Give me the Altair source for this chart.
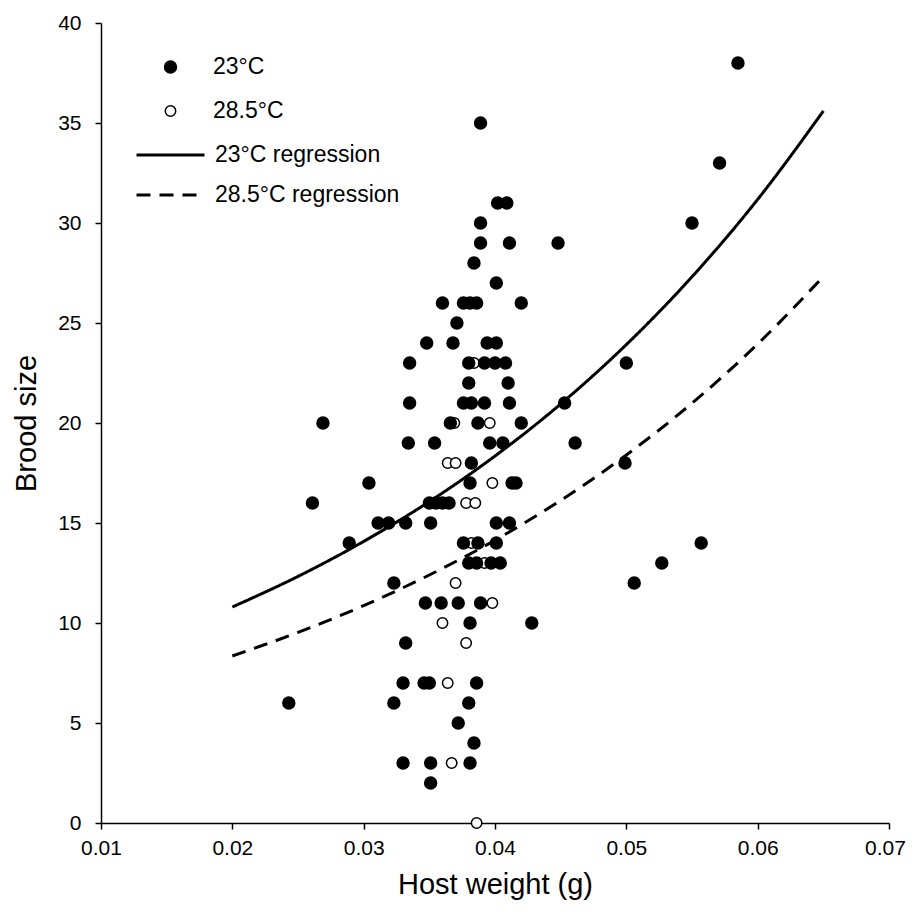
import altair as alt
import pandas as pd

# ---- data ----
# 23°C (filled circles)
x_23 = [0.0585, 0.0389, 0.0571, 0.0402, 0.0409, 0.0389, 0.0550, 0.0389, 0.0411, 0.0448,
        0.0384, 0.0401, 0.0360, 0.0376, 0.0381, 0.0386, 0.0420, 0.0371,
        0.0348, 0.0368, 0.0394, 0.0401,
        0.0335, 0.0380, 0.0392, 0.0400, 0.0408, 0.0500,
        0.0380, 0.0410,
        0.0335, 0.0376, 0.0382, 0.0392, 0.0411, 0.0453,
        0.0269, 0.0366, 0.0387, 0.0420,
        0.0334, 0.0354, 0.0396, 0.0406, 0.0461,
        0.0382, 0.0499,
        0.0304, 0.0381, 0.0413, 0.0416,
        0.0261, 0.0350, 0.0355, 0.0360, 0.0365,
        0.0311, 0.0319, 0.0332, 0.0351, 0.0401, 0.0411,
        0.0289, 0.0376, 0.0387, 0.0401, 0.0557,
        0.0380, 0.0386, 0.0397, 0.0404, 0.0527,
        0.0323, 0.0506,
        0.0347, 0.0359, 0.0372, 0.0389,
        0.0381, 0.0428,
        0.0332,
        0.0330, 0.0346, 0.0350, 0.0386,
        0.0243, 0.0323, 0.0380,
        0.0372,
        0.0384,
        0.0330, 0.0351, 0.0381,
        0.0351]
y_23 = [38, 35, 33, 31, 31, 30, 30, 29, 29, 29,
        28, 27, 26, 26, 26, 26, 26, 25,
        24, 24, 24, 24,
        23, 23, 23, 23, 23, 23,
        22, 22,
        21, 21, 21, 21, 21, 21,
        20, 20, 20, 20,
        19, 19, 19, 19, 19,
        18, 18,
        17, 17, 17, 17,
        16, 16, 16, 16, 16,
        15, 15, 15, 15, 15, 15,
        14, 14, 14, 14, 14,
        13, 13, 13, 13, 13,
        12, 12,
        11, 11, 11, 11,
        10, 10,
        9,
        7, 7, 7, 7,
        6, 6, 6,
        5,
        4,
        3, 3, 3,
        2]

# 28.5°C (open circles)
x_28 = [0.0384, 0.0369, 0.0396, 0.0364, 0.0370, 0.0398, 0.0378, 0.0385, 0.0382,
        0.0392, 0.0370, 0.0398, 0.0360, 0.0378, 0.0364, 0.0367, 0.0386]
y_28 = [23, 20, 20, 18, 18, 17, 16, 16, 14,
        13, 12, 11, 10, 9, 7, 3, 0]

# regression curves, read at regular host weights
curve_x = [0.020, 0.025, 0.030, 0.035, 0.040, 0.045, 0.050, 0.055, 0.060, 0.065]
curve_23 = [10.8, 12.33, 14.08, 16.07, 18.35, 20.95, 23.92, 27.31, 31.18, 35.6]
curve_28 = [8.35, 9.53, 10.87, 12.40, 14.14, 16.13, 18.40, 20.99, 23.95, 27.32]

point_labels = ["23°C", "28.5°C"]
line_labels = ["23°C regression", "28.5°C regression"]
x_ticks = [0.01, 0.02, 0.03, 0.04, 0.05, 0.06, 0.07]
y_ticks = [0, 5, 10, 15, 20, 25, 30, 35, 40]

FONT = "Liberation Sans"

# open circles first so the filled ones sit on top
pts = pd.DataFrame({
    "w": x_28 + x_23,
    "b": y_28 + y_23,
    "t": [point_labels[1]] * len(x_28) + [point_labels[0]] * len(x_23),
})
lines = pd.DataFrame({
    "w": curve_x + curve_x,
    "b": curve_23 + curve_28,
    "s": [line_labels[0]] * len(curve_x) + [line_labels[1]] * len(curve_x),
})

xs = alt.Scale(domain=[0.01, 0.07], nice=False, zero=False)
ys = alt.Scale(domain=[0, 40], nice=False)

x_axis = alt.Axis(values=x_ticks, format=".2f", title="Host weight (g)",
                  labelFlush=False, labelOverlap=False, labelPadding=8, titlePadding=12,
                  labelOffset={"condition": {"test": "datum.value > 0.0695", "value": -4},
                               "value": 0})
y_axis = alt.Axis(values=y_ticks, title="Brood size", labelPadding=14, titlePadding=16,
                  labelOverlap=False)

line_legend = alt.Legend(title=None, orient="none", legendX=34, legendY=120,
                         symbolType="stroke", symbolSize=4624, symbolStrokeWidth=3,
                         symbolStrokeColor="black", labelOffset=9, rowPadding=16,
                         clipHeight=24,
                         labelLimit=0, labelFont=FONT, labelFontSize=23, labelColor="black",
                         padding=0)

point_legend = alt.Legend(title=None, orient="none", legendX=58, legendY=32,
                          symbolType="circle", symbolStrokeColor="black",
                          symbolStrokeWidth=1.5, labelOffset=31, rowPadding=20,
                          clipHeight=24,
                          labelLimit=0, labelFont=FONT, labelFontSize=23, labelColor="black",
                          padding=0)

line_layer = alt.Chart(lines).mark_line(strokeWidth=3, color="black", interpolate="monotone").encode(
    x=alt.X("w:Q", scale=xs, axis=x_axis),
    y=alt.Y("b:Q", scale=ys, axis=y_axis),
    strokeDash=alt.StrokeDash(
        "s:N",
        scale=alt.Scale(domain=line_labels, range=[[1, 0], [14, 9]]),
        legend=line_legend,
    ),
    detail="s:N",
)

point_layer = alt.Chart(pts).mark_point(filled=True, shape="circle", opacity=1).encode(
    x=alt.X("w:Q", scale=xs),
    y=alt.Y("b:Q", scale=ys),
    fill=alt.Fill(
        "t:N",
        scale=alt.Scale(domain=point_labels, range=["black", "white"]),
        legend=point_legend,
    ),
    stroke=alt.Stroke(
        "t:N",
        scale=alt.Scale(domain=point_labels, range=["black", "black"]),
        legend=point_legend,
    ),
    size=alt.Size("t:N", scale=alt.Scale(domain=point_labels, range=[143, 109]),
                  legend=point_legend),
    strokeWidth=alt.value(1.5),
    order=alt.Order("o:Q"),
).transform_calculate(o="datum.t == '23°C' ? 1 : 0")

chart = alt.layer(line_layer, point_layer).properties(
    width=788,
    height=800,
    autosize=alt.AutoSizeParams(type="none"),
    padding={"left": 93, "top": 15, "right": 17, "bottom": 86},
).configure_view(stroke=None).configure_axis(
    grid=False,
    domainColor="black",
    domainWidth=1.5,
    tickColor="black",
    tickWidth=1.5,
    tickSize=6,
    labelFont=FONT,
    labelFontSize=21,
    labelColor="black",
    titleFont=FONT,
    titleFontSize=29,
    titleFontWeight="normal",
    titleColor="black",
)

chart.save("out.html", embed_options={"renderer": "svg", "actions": False})
